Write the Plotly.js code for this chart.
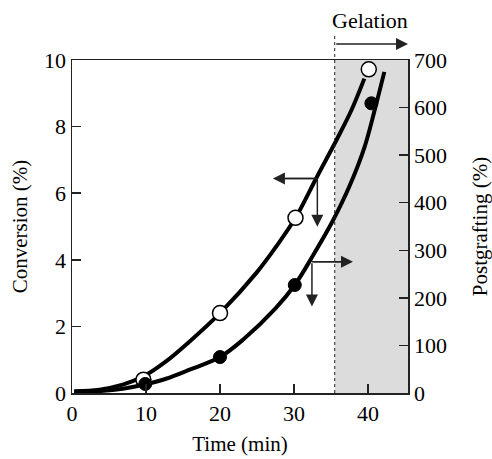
<!DOCTYPE html>
<html>
<head>
<meta charset="utf-8">
<script src="https://cdn.plot.ly/plotly-3.0.1.min.js"></script>
<style>body{margin:0;background:#fff}#chart{width:492px;height:459px}</style>
</head>
<body>
<div id="chart"></div>
<script>
// Measured points
const convTime = [9.65, 20.0, 30.2, 40.1];
const convValues = [0.40, 2.40, 5.26, 9.72];
const graftTime = [9.9, 20.0, 30.1, 40.45];
const graftValues = [19, 75.6, 227, 609];

// Curves
const convCurveTime = [0.3, 3.7, 6.85, 9.65, 12.7, 15.9, 20.0, 25.0, 27.6, 30.2, 33.0, 35.72, 37.75, 39.5];
const convCurveValues = [0.05, 0.10, 0.25, 0.50, 0.95, 1.55, 2.40, 3.63, 4.40, 5.26, 6.45, 7.59, 8.49, 9.44];
const graftCurveTime = [0.3, 3.7, 6.85, 9.65, 12.7, 15.9, 20.0, 23.1, 27.5, 30.1, 32.6, 35.24, 37.5, 39.55, 40.9, 42.2];
const graftCurveValues = [2, 4, 9, 17.4, 30, 49, 75.6, 112, 178, 227, 290, 362, 435, 518, 595, 675];

// Axis tick labels
const xTicks = [0, 10, 20, 30, 40];
const yTicks = [0, 2, 4, 6, 8, 10];
const y2Ticks = [0, 100, 200, 300, 400, 500, 600, 700];

const gelationTime = 35.5;

const FONT = 'Liberation Serif, Times New Roman, serif';
const traces = [
  {x: convCurveTime, y: convCurveValues, mode: 'lines', line: {color: '#000', width: 4, shape: 'spline', smoothing: 1}, yaxis: 'y', hoverinfo: 'skip'},
  {x: graftCurveTime, y: graftCurveValues, mode: 'lines', line: {color: '#000', width: 4, shape: 'spline', smoothing: 1}, yaxis: 'y2', hoverinfo: 'skip'},
  {x: graftTime, y: graftValues, mode: 'markers', marker: {symbol: 'circle', size: 13, color: '#000', line: {color: '#000', width: 1}}, yaxis: 'y2'},
  {x: convTime, y: convValues, mode: 'markers', marker: {symbol: 'circle', size: 15, color: '#fff', line: {color: '#000', width: 1.5}}, yaxis: 'y'}
];

const axisCommon = {
  showgrid: false, zeroline: false, showline: true, linecolor: '#222', linewidth: 1.5,
  ticks: 'inside', ticklen: 9, tickwidth: 1.5, tickcolor: '#222',
  tickfont: {family: FONT, size: 22, color: '#000'}
};
const titleFont = {family: FONT, size: 21, color: '#000'};

const layout = {
  width: 492, height: 459,
  margin: {l: 72, r: 84, t: 60, b: 66},
  paper_bgcolor: '#fff', plot_bgcolor: '#fff',
  showlegend: false,
  font: {family: FONT, color: '#000'},
  xaxis: Object.assign({}, axisCommon, {
    range: [0, 45.4], tickvals: xTicks, mirror: true,
    title: {text: 'Time (min)', font: titleFont, standoff: 11}
  }),
  yaxis: Object.assign({}, axisCommon, {
    range: [0, 10], tickvals: yTicks,
    title: {text: 'Conversion (%)', font: titleFont, standoff: 10}
  }),
  yaxis2: Object.assign({}, axisCommon, {
    range: [0, 700], tickvals: y2Ticks, overlaying: 'y', side: 'right',
    title: {text: 'Postgrafting (%)', font: titleFont, standoff: 26}
  }),
  shapes: [
    {type: 'rect', xref: 'x', yref: 'paper', x0: gelationTime, x1: 45.4, y0: 0, y1: 1, fillcolor: '#dcdcdc', line: {width: 0}, layer: 'below'},
    {type: 'line', xref: 'x', yref: 'paper', x0: gelationTime, x1: gelationTime, y0: 0, y1: 1.075, line: {color: '#222', width: 1, dash: 'dot'}},
    {type: 'line', xref: 'x', yref: 'y', x0: 27.5, x1: 33.15, y0: 6.44, y1: 6.44, line: {color: '#222', width: 1.5}},
    {type: 'line', xref: 'x', yref: 'y', x0: 32.42, x1: 37.5, y0: 3.94, y1: 3.94, line: {color: '#222', width: 1.5}}
  ],
  annotations: [
    {xref: 'x', yref: 'y', axref: 'x', ayref: 'y', x: 27.15, y: 6.44, ax: 33.15, ay: 6.44, showarrow: true, arrowhead: 2, arrowsize: 1.6, arrowwidth: 1.5, arrowcolor: '#222', text: ''},
    {xref: 'x', yref: 'y', axref: 'x', ayref: 'y', x: 33.15, y: 4.99, ax: 33.15, ay: 6.44, showarrow: true, arrowhead: 2, arrowsize: 1.6, arrowwidth: 1.5, arrowcolor: '#222', text: ''},
    {xref: 'x', yref: 'y', axref: 'x', ayref: 'y', x: 37.97, y: 3.94, ax: 32.42, ay: 3.94, showarrow: true, arrowhead: 2, arrowsize: 1.6, arrowwidth: 1.5, arrowcolor: '#222', text: ''},
    {xref: 'x', yref: 'y', axref: 'x', ayref: 'y', x: 32.42, y: 2.60, ax: 32.42, ay: 3.94, showarrow: true, arrowhead: 2, arrowsize: 1.6, arrowwidth: 1.5, arrowcolor: '#222', text: ''},
    {xref: 'x', yref: 'paper', axref: 'x', ayref: 'paper', x: 45.4, y: 1.048, ax: gelationTime, ay: 1.048, showarrow: true, arrowhead: 2, arrowsize: 1.6, arrowwidth: 1.5, arrowcolor: '#222', text: ''},
    {xref: 'x', yref: 'paper', x: 40.2, y: 1.12, yanchor: 'middle', xanchor: 'center', text: 'Gelation', showarrow: false, font: {family: FONT, size: 22, color: '#000'}}
  ]
};

Plotly.newPlot('chart', traces, layout, {displayModeBar: false, staticPlot: true});
</script>
</body>
</html>
